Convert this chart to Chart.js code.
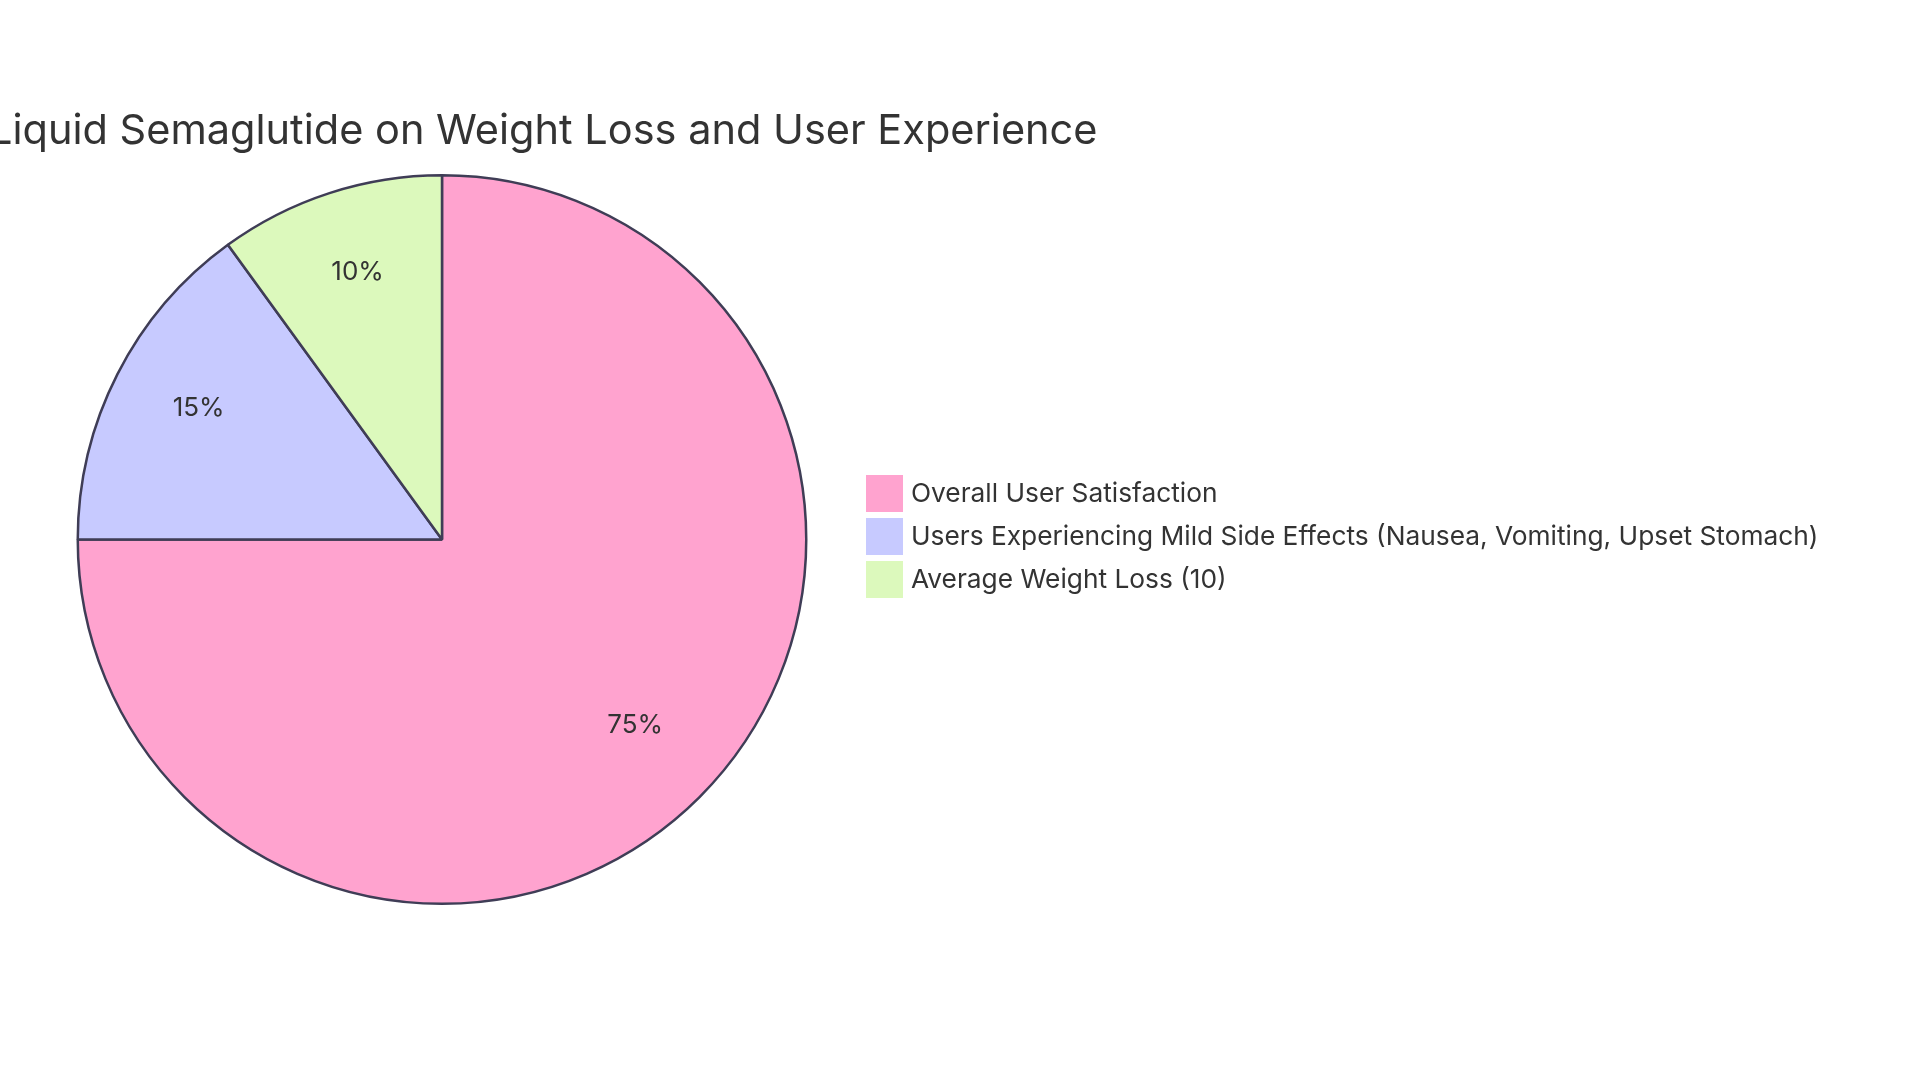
<!DOCTYPE html>
<html>
<head>
<meta charset="utf-8">
<style>
  html, body { margin: 0; padding: 0; background: #fff; }
  #wrap { width: 1920px; height: 1083px; position: relative; }
</style>
<script src="https://cdn.jsdelivr.net/npm/chart.js@4.4.1/dist/chart.umd.min.js"></script>
</head>
<body>
<div id="wrap"><canvas id="pie"></canvas></div>
<script>
const TITLE = 'Impact of Liquid Semaglutide on Weight Loss and User Experience';
const labels = [
    'Overall User Satisfaction',
    'Users Experiencing Mild Side Effects (Nausea, Vomiting, Upset Stomach)',
    'Average Weight Loss (10)',
];
const values = [75, 15, 10];
const sliceColors = ['#FFA3CF', '#C7CAFF', '#DCF9BC'];

const FONT = "Inter, 'Noto Sans', sans-serif";
const TEXT = '#333333';
const EDGE = '#3F3D56';

// title centred over the pie, like the source
const titlePlugin = {
    id: 'pieTitle',
    afterDraw(chart) {
        const { ctx } = chart;
        const arc = chart.getDatasetMeta(0).data[0];
        ctx.save();
        ctx.font = `400 41.5px ${FONT}`;
        ctx.fillStyle = TEXT;
        ctx.textAlign = 'center';
        ctx.textBaseline = 'middle';
        ctx.fillText(TITLE, arc.x + 2.5, 132);
        ctx.restore();
    },
};

// percentage labels at 3/4 radius (text sits a little high, as in the source)
const sliceLabels = {
    id: 'sliceLabels',
    afterDatasetsDraw(chart) {
        const { ctx } = chart;
        const total = values.reduce((a, b) => a + b, 0);
        ctx.save();
        ctx.font = `400 26px ${FONT}`;
        ctx.fillStyle = TEXT;
        ctx.textAlign = 'center';
        ctx.textBaseline = 'middle';
        chart.getDatasetMeta(0).data.forEach((arc, i) => {
            const mid = (arc.startAngle + arc.endAngle) / 2;
            const r = arc.outerRadius * 0.75;
            const pct = Math.round(values[i] / total * 100) + '%';
            ctx.fillText(pct, arc.x + Math.cos(mid) * r, arc.y + Math.sin(mid) * r - 7);
        });
        ctx.restore();
    },
};

// square-box legend to the right of the pie
const sideLegend = {
    id: 'sideLegend',
    afterDraw(chart) {
        const { ctx } = chart;
        const box = 37, step = 43, x0 = 866;
        const y0 = 536.5 - step * (labels.length - 1) / 2;
        ctx.save();
        ctx.font = `400 26.3px ${FONT}`;
        ctx.textBaseline = 'middle';
        labels.forEach((lab, i) => {
            const cy = y0 + i * step;
            ctx.fillStyle = sliceColors[i];
            ctx.fillRect(x0, cy - box / 2, box, box);
            ctx.fillStyle = TEXT;
            ctx.fillText(lab, x0 + box + 8, cy + 1);
        });
        ctx.restore();
    },
};

new Chart(document.getElementById('pie'), {
    type: 'pie',
    data: {
        labels,
        datasets: [{
            data: values,
            backgroundColor: sliceColors,
            borderColor: EDGE,
            borderWidth: 2.5,
            hoverOffset: 0,
        }],
    },
    options: {
        responsive: true,
        maintainAspectRatio: false,
        animation: false,
        layout: { padding: { left: 76.5, top: 174, right: 1112.5, bottom: 178 } },
        plugins: {
            legend: { display: false },
            tooltip: { enabled: false },
            title: { display: false },
        },
    },
    plugins: [sliceLabels, titlePlugin, sideLegend],
});
</script>
</body>
</html>
